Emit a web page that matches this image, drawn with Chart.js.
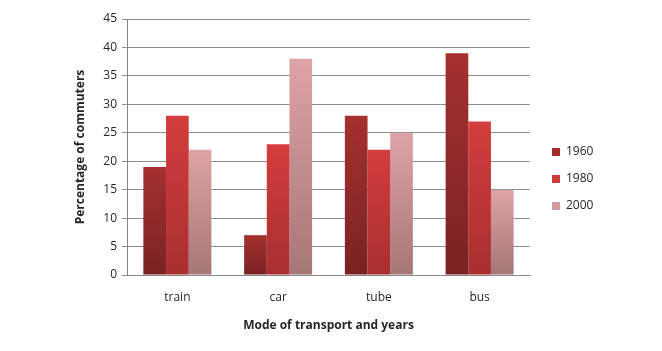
<!DOCTYPE html>
<html>
<head>
<meta charset="utf-8">
<script src="https://cdn.jsdelivr.net/npm/chart.js@4/dist/chart.umd.min.js"></script>
<style>
html,body{margin:0;padding:0;background:#fff;}
#wrap{width:662px;height:351px;position:relative;}
</style>
</head>
<body>
<div id="wrap"><canvas id="c" width="662" height="351"></canvas></div>
<script>
const categories = ['train', 'car', 'tube', 'bus'];
const years = ['1960', '1980', '2000'];
const values1960 = [19, 7, 28, 39];
const values1980 = [28, 23, 22, 27];
const values2000 = [22, 38, 25, 15];
const yTicks = [0, 5, 10, 15, 20, 25, 30, 35, 40, 45];

const topColors = ['#a5302f', '#d43d3d', '#dea3a6'];
const bottomColors = ['#7a2223', '#a82f30', '#a67677'];
const legendColors = ['#a52b2b', '#cf3a3a', '#d39b9d'];

function barGradient(i) {
  return function(ctx) {
    const chart = ctx.chart;
    const area = chart.chartArea;
    if (!area || ctx.type !== 'data') return legendColors[i];
    const ys = chart.scales.y;
    const top = ys.getPixelForValue(ctx.raw);
    const bottom = ys.getPixelForValue(0);
    if (!isFinite(top) || top === bottom) return topColors[i];
    const g = chart.ctx.createLinearGradient(0, top, 0, bottom);
    g.addColorStop(0, topColors[i]);
    g.addColorStop(1, bottomColors[i]);
    return g;
  };
}

const seriesValues = [values1960, values1980, values2000];

const legendPlacePlugin = {
  id: 'legendPlace',
  afterInit(chart) {
    const lg = chart.legend;
    const origFit = lg.fit.bind(lg);
    lg.fit = function() { origFit(); this.width = 132; };
  },
  afterLayout(chart) {
    const lg = chart.legend;
    lg.left += 7; lg.right += 7;
    lg.top += 3; lg.bottom += 3;
  }
};

new Chart(document.getElementById('c'), {
  type: 'bar',
  data: {
    labels: categories,
    datasets: years.map((y, i) => ({
      label: y,
      data: seriesValues[i],
      backgroundColor: barGradient(i),
      borderWidth: 0,
      categoryPercentage: 0.675,
      barPercentage: 1.0
    }))
  },
  plugins: [legendPlacePlugin],
  options: {
    responsive: false,
    animation: false,
    devicePixelRatio: 1,
    layout: { padding: { top: 19, left: 73, right: 0, bottom: 18 } },
    plugins: {
      tooltip: { enabled: false },
      legend: {
        position: 'right',
        align: 'center',
        labels: {
          boxWidth: 8,
          boxHeight: 8,
          padding: 15,
          color: '#262626',
          font: { family: 'Open Sans', size: 12 },
          generateLabels(chart) {
            return years.map((y, i) => ({
              text: y,
              fillStyle: legendColors[i],
              strokeStyle: legendColors[i],
              lineWidth: 0,
              hidden: false,
              datasetIndex: i,
              fontColor: '#262626'
            }));
          }
        }
      }
    },
    scales: {
      x: {
        afterFit(axis) { axis.height = 58; },
        grid: { display: false, drawTicks: false },
        border: { display: true, color: '#868686', width: 1 },
        ticks: { color: '#262626', font: { family: 'Open Sans', size: 12 }, padding: 15 },
        title: {
          display: true,
          text: 'Mode of transport and years',
          color: '#262626',
          font: { family: 'Open Sans', size: 12, weight: 'bold' },
          padding: { top: 10, bottom: 0 }
        }
      },
      y: {
        min: 0,
        max: 45,
        afterBuildTicks(axis) { axis.ticks = yTicks.map(v => ({ value: v })); },
        afterFit(axis) { axis.width = 54; },
        grid: { color: '#8c8c8c', lineWidth: 1, tickLength: 5, drawTicks: true },
        border: { display: true, color: '#868686', width: 1 },
        ticks: { color: '#262626', font: { family: 'Open Sans', size: 12 }, padding: 5 },
        title: {
          display: true,
          text: 'Percentage of commuters',
          color: '#262626',
          font: { family: 'Open Sans', size: 12, weight: 'bold' },
          padding: { top: 0, bottom: 0 }
        }
      }
    }
  }
});
</script>
</body>
</html>
